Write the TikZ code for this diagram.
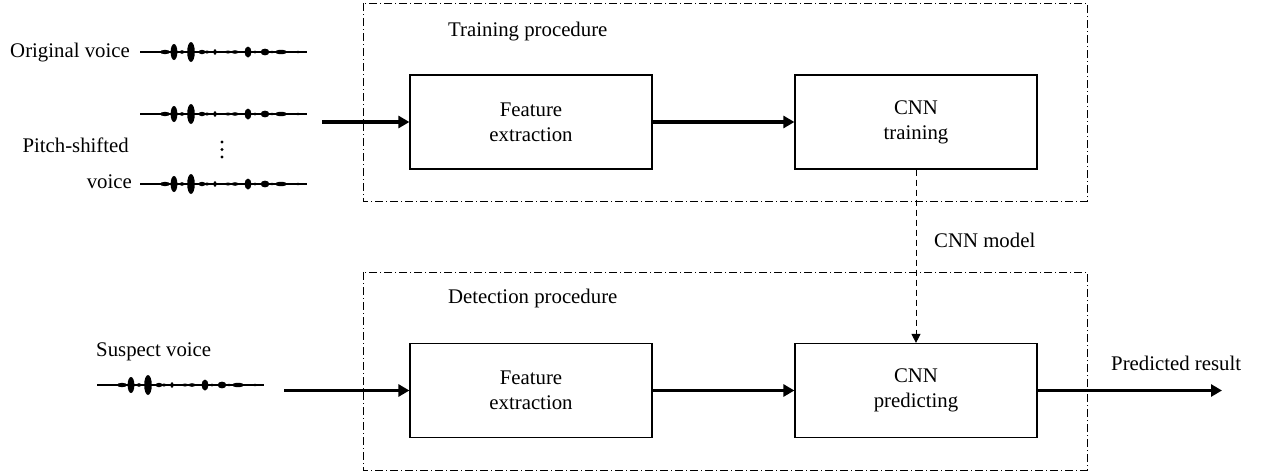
\documentclass[tikz,border=0pt]{standalone}
\usepackage{fontspec}
\setmainfont{Liberation Serif}
\usetikzlibrary{arrows.meta,positioning}

\tikzset{
  every node/.style={font=\fontsize{20.8}{25}\selectfont},
  txt/.style={inner sep=0pt},
  block/.style={draw, line width=1.2pt, minimum width=242pt, minimum height=94pt, align=center, inner sep=0pt},
  frame/.style={line width=0.9pt, dash pattern=on 8pt off 3pt on 1pt off 3pt},
  flow/.style={line width=3.8pt, -{Triangle[length=11pt,width=12pt]}},
  modelflow/.style={line width=1pt, dash pattern=on 6pt off 4pt, -{Triangle[length=9pt,width=9pt]}},
  voicewave/.pic={
    \draw[line width=1.2pt] (0,0) -- (167,0);
    \foreach \x/\w/\h in {25/5/2.2, 34/3.4/8, 42/2.2/1.8, 51/3.8/10, 62/3.4/2.2, 67/2.2/1.5,
                          75/1.6/2.8, 88/2.8/1.5, 95/3.4/1.8, 108/3.4/5.5, 115/1.8/1.5,
                          125/4.4/3.4, 132/2.8/1.2, 141/6/2.2, 158/4.4/1.1}
      \fill (\x,0) ellipse [x radius=\w, y radius=\h];
  }
}

\begin{document}
\begin{tikzpicture}[x=1pt, y=-1pt]
  \useasboundingbox (0,0) rectangle (1262,472);

  % procedure frames
  \draw[frame] (363,3) rectangle (1087,201);
  \draw[frame] (363,272) rectangle (1087,470);
  \node[txt, anchor=west] (trainlabel) at (448,32) {Training procedure};
  \node[txt, anchor=west] (detectlabel) at (448,298) {Detection procedure};

  % blocks
  \node[block] (fetrain) at (531,122) {Feature\\extraction};
  \node[block] (cnntrain) at (916,122) {CNN\\training};
  \node[block] (fedetect) at (531,390.5) {Feature\\extraction};
  \node[block] (cnnpredict) at (916,390.5) {CNN\\predicting};

  % input voices
  \node[txt, anchor=east] (origlabel) at (130,53) {Original voice};
  \node[txt, anchor=east] (pitchlabel) at (129,145) {Pitch-shifted};
  \node[txt, anchor=east] (voicelabel) at (132,182) {voice};
  \pic at (140,52) {voicewave};
  \pic at (140,114) {voicewave};
  \pic at (140,184) {voicewave};
  \foreach \y in {142,149.5,157}
    \fill (222,\y) circle (1.7);

  \node[txt, anchor=west] (suspectlabel) at (96,352) {Suspect voice};
  \pic at (97,385) {voicewave};

  % connections
  \coordinate (trainin) at (322,122);
  \draw[flow] (trainin) -- (fetrain);
  \draw[flow] (fetrain) -- (cnntrain);
  \draw[modelflow] (cnntrain) -- (cnnpredict);
  \node[txt, anchor=west] (modellabel) at (934,240) {CNN model};

  \coordinate (detectin) at (284,390.5);
  \draw[flow] (detectin) -- (fedetect);
  \draw[flow] (fedetect) -- (cnnpredict);
  \coordinate (resultout) at (1222,390.5);
  \draw[flow] (cnnpredict) -- (resultout);
  \node[txt, anchor=west] (resultlabel) at (1111,363) {Predicted result};
\end{tikzpicture}
\end{document}
